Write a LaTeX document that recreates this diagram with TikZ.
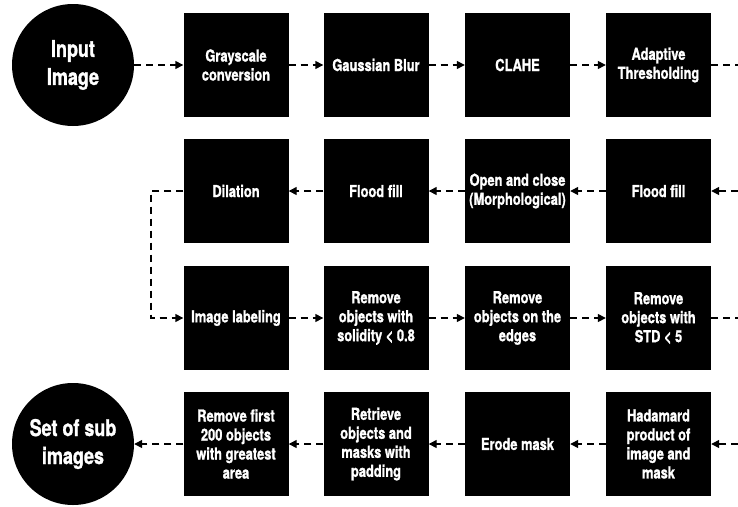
\documentclass[tikz,border=0pt]{standalone}
\usepackage{fontspec}
\setmainfont{TeX Gyre Heros}[FakeStretch=0.78, FakeBold=1.2]
\usetikzlibrary{arrows.meta}
\begin{document}
\begin{tikzpicture}[x=1pt, y=-1pt,
        stepbox/.style={fill=black, text=white, minimum width=105pt, minimum height=104pt, inner sep=0pt, align=center, font=\bfseries\fontsize{16.5}{19}\selectfont},
        endpoint/.style={circle, fill=black, text=white, minimum size=122pt, inner sep=0pt, align=center, font=\bfseries\fontsize{23}{28}\selectfont},
        flow/.style={line width=1.4pt, dash pattern=on 7pt off 5pt, -{Triangle[length=8pt, width=8pt]}},
        edge/.style={line width=1.4pt, dash pattern=on 7pt off 5pt}]
        \useasboundingbox (0,0) rectangle (738,506);
        % row 1
        \node[endpoint] (input) at (73,65) {Input\\Image};
        \node[stepbox] (gray) at (236,65) {Grayscale\\conversion};
        \node[stepbox] (blur) at (376,65) {Gaussian Blur};
        \node[stepbox] (clahe) at (517.5,65) {CLAHE};
        \node[stepbox] (thresh) at (658.5,65) {Adaptive\\Thresholding};
        \coordinate (out1) at (738,65);
        % row 2
        \node[stepbox] (dilate) at (236,191) {Dilation};
        \node[stepbox] (fill2) at (376,191) {Flood fill};
        \node[stepbox] (morph) at (517.5,191) {Open and close\\(Morphological)};
        \node[stepbox] (fill1) at (658.5,191) {Flood fill};
        \coordinate (in2) at (738,191);
        \coordinate (turn) at (151,191);
        % row 3
        \node[stepbox] (label) at (236,318) {Image labeling};
        \node[stepbox] (solid) at (376,318) {Remove\\objects with\\solidity < 0.8};
        \node[stepbox] (edges) at (517.5,318) {Remove\\objects on the\\edges};
        \node[stepbox] (std) at (658.5,318) {Remove\\objects with\\STD < 5};
        \coordinate (out3) at (738,318);
        % row 4
        \node[endpoint] (subimg) at (73,444) {Set of sub\\images};
        \node[stepbox] (largest) at (236,444) {Remove first\\200 objects\\with greatest\\area};
        \node[stepbox] (crop) at (376,444) {Retrieve\\objects and\\masks with\\padding};
        \node[stepbox] (erode) at (517.5,444) {Erode mask};
        \node[stepbox] (hadamard) at (658.5,444) {Hadamard\\product of\\image and\\mask};
        \coordinate (in4) at (738,444);
        % connectors
        \draw[flow] (input) -- (gray);
        \draw[flow] (gray) -- (blur);
        \draw[flow] (blur) -- (clahe);
        \draw[flow] (clahe) -- (thresh);
        \draw[edge] (thresh) -- (out1);
        \draw[flow] (in2) -- (fill1);
        \draw[flow] (fill1) -- (morph);
        \draw[flow] (morph) -- (fill2);
        \draw[flow] (fill2) -- (dilate);
        \draw[flow] (dilate.west) -- (turn) |- (label.west);
        \draw[flow] (label) -- (solid);
        \draw[flow] (solid) -- (edges);
        \draw[flow] (edges) -- (std);
        \draw[edge] (std) -- (out3);
        \draw[flow] (in4) -- (hadamard);
        \draw[flow] (hadamard) -- (erode);
        \draw[flow] (erode) -- (crop);
        \draw[flow] (crop) -- (largest);
        \draw[flow] (largest) -- (subimg);
\end{tikzpicture}
\end{document}
